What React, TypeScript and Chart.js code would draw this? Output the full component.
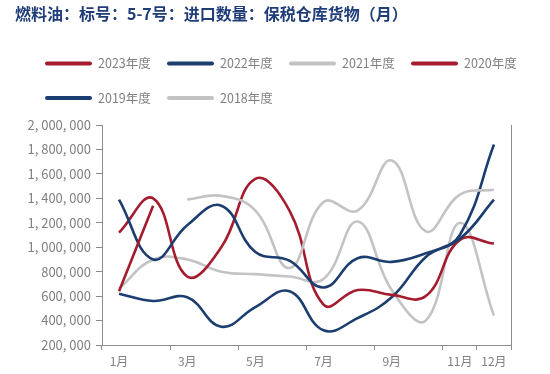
import React, { useEffect, useRef } from "react";
import { Chart, registerables } from "chart.js";

Chart.register(...registerables);

const TITLE = "燃料油：标号：5-7号：进口数量：保税仓库货物（月）";

const months = ["1月", "2月", "3月", "4月", "5月", "6月", "7月", "8月", "9月", "10月", "11月", "12月"];
const shownLabelIdx = [0, 2, 4, 6, 8, 10, 11];
const shownTickIdx = [0, 2, 4, 6, 8, 10, 11, 12];

const yTicksMin = 200000;
const yTicksMax = 2000000;
const yTicksStep = 200000;

const seriesLabels = ["2023年度", "2022年度", "2021年度", "2020年度", "2019年度", "2018年度"];

const s2023 = [640000, 1340000, null, null, null, null, null, null, null, null, null, null];
const s2022 = [1390000, 900000, 1180000, 1340000, 960000, 890000, 670000, 910000, 880000, 950000, 1070000, 1390000];
const s2021 = [null, null, 1390000, 1420000, 1300000, 830000, 1370000, 1300000, 1710000, 1130000, 1430000, 1470000];
const s2020 = [1120000, 1400000, 760000, 1000000, 1560000, 1300000, 530000, 650000, 610000, 600000, 1060000, 1030000];
const s2019 = [620000, 560000, 590000, 350000, 510000, 640000, 320000, 420000, 590000, 920000, 1100000, 1840000];
const s2018 = [660000, 900000, 900000, 800000, 780000, 760000, 740000, 1210000, 650000, 400000, 1200000, 440000];

const RED = "#a41c2e";
const NAVY = "#1c3d6f";
const GRAY = "#c3c3c3";
const AXIS = "#8c8c8c";
const TEXT = "#808080";
const FONT = '"Noto Sans CJK SC", "Noto Sans", sans-serif';

const titleLegendPlugin = {
  id: "titleLegend",
  afterDraw(chart: any) {
    const ctx = chart.ctx;
    ctx.save();
    ctx.textBaseline = "middle";
    ctx.textAlign = "left";
    ctx.fillStyle = "#1f3d78";
    ctx.font = `bold 16px ${FONT}`;
    ctx.fillText(TITLE, 15, 14);
    chart.data.datasets.forEach((ds: any, i: number) => {
      const col = i % 4;
      const row = Math.floor(i / 4);
      const x = 45 + col * 122;
      const y = 63.5 + row * 34.5;
      ctx.strokeStyle = ds.borderColor;
      ctx.lineWidth = 4;
      ctx.lineCap = "round";
      ctx.beginPath();
      ctx.moveTo(x + 2, y);
      ctx.lineTo(x + 45, y);
      ctx.stroke();
      ctx.fillStyle = TEXT;
      ctx.font = `12.5px ${FONT}`;
      ctx.fillText(ds.label, x + 53, y);
    });
    ctx.restore();
  },
};

function mk(label: string, data: (number | null)[], color: string) {
  return {
    label,
    data,
    borderColor: color,
    backgroundColor: color,
    borderWidth: 2.6,
    pointRadius: 0,
    tension: 0.42,
    fill: false,
    spanGaps: false,
  };
}

export default function App() {
  const ref = useRef<HTMLCanvasElement | null>(null);
  useEffect(() => {
    if (!ref.current) return;
    Chart.defaults.font.family = FONT;
    const chart = new Chart(ref.current, {
      type: "line",
      data: {
        labels: months,
        datasets: [
          mk(seriesLabels[0], s2023, RED),
          mk(seriesLabels[1], s2022, NAVY),
          mk(seriesLabels[2], s2021, GRAY),
          mk(seriesLabels[3], s2020, RED),
          mk(seriesLabels[4], s2019, NAVY),
          mk(seriesLabels[5], s2018, GRAY),
        ],
      },
      options: {
        responsive: false,
        animation: false,
        devicePixelRatio: 1,
        layout: { padding: { top: 125, right: 39, bottom: 0, left: 0 } },
        plugins: { legend: { display: false }, title: { display: false }, tooltip: { enabled: false } },
        scales: {
          x: {
            type: "category",
            offset: true,
            afterFit: (s: any) => {
              s.height = 29;
            },
            grid: {
              offset: true,
              drawOnChartArea: false,
              drawTicks: true,
              tickLength: 5,
              color: (c: any) =>
                c.index === undefined || shownTickIdx.includes(c.index) ? AXIS : "rgba(0,0,0,0)",
            },
            border: { display: true, color: AXIS, width: 1 },
            ticks: {
              autoSkip: false,
              maxRotation: 0,
              padding: 4,
              color: TEXT,
              font: { size: 12 },
              callback: (_v: any, i: number) => (shownLabelIdx.includes(i) ? months[i] : ""),
            },
          },
          y: {
            min: yTicksMin,
            max: yTicksMax,
            afterFit: (s: any) => {
              s.width = 102;
            },
            grid: { drawOnChartArea: false, drawTicks: true, tickLength: 6, color: AXIS },
            border: { display: true, color: AXIS, width: 1 },
            ticks: {
              stepSize: yTicksStep,
              padding: 5,
              color: TEXT,
              font: { size: 13 },
              callback: (v: any) => Number(v).toLocaleString("en-US").replace(/,/g, ", "),
            },
          },
          y2: {
            position: "right",
            min: yTicksMin,
            max: yTicksMax,
            afterFit: (s: any) => {
              s.width = 0;
            },
            grid: { display: false },
            border: { display: true, color: AXIS, width: 1 },
            ticks: { display: false },
          },
        },
      },
      plugins: [titleLegendPlugin],
    } as any);
    return () => chart.destroy();
  }, []);
  return (
    <div style={{ position: "fixed", left: 0, top: 0, width: 550, height: 374, background: "#fff" }}>
      <canvas ref={ref} width={550} height={374} style={{ width: 550, height: 374, display: "block" }} />
    </div>
  );
}
